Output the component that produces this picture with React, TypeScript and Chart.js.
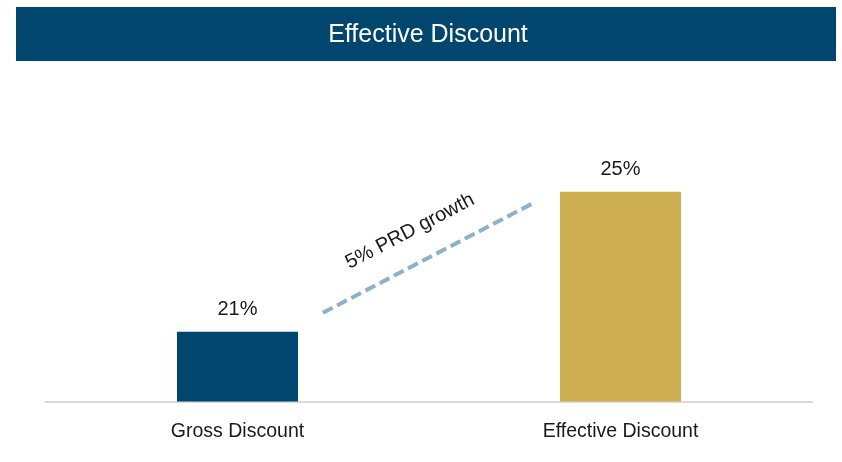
import React, { useEffect, useRef } from 'react';
import { Chart, registerables } from 'chart.js';

Chart.register(...registerables);

const titleText = 'Effective Discount';
const categories = ['Gross Discount', 'Effective Discount'];
const values = [21, 25];
const valueLabels = ['21%', '25%'];
const barColors = ['#00466E', '#CDAE51'];
const yRange = [19, 28];
const growthLabel = '5% PRD growth';
const growthLineX = [0.223, 0.769];
const growthLineY = [21.54, 24.66];

const FONT = '"Liberation Sans", Arial, sans-serif';

export default function App() {
  const ref = useRef<HTMLCanvasElement | null>(null);

  useEffect(() => {
    const canvas = ref.current;
    if (!canvas) return;

    const decor = {
      id: 'decor',
      beforeDraw(chart: any) {
        const ctx = chart.ctx;
        ctx.save();
        ctx.fillStyle = '#00466E';
        ctx.fillRect(16, 7, 820, 54);
        ctx.fillStyle = '#ffffff';
        ctx.font = `25px ${FONT}`;
        ctx.textAlign = 'center';
        ctx.textBaseline = 'middle';
        ctx.fillText(titleText, 428, 35);
        ctx.restore();
      },
      afterDatasetsDraw(chart: any) {
        const ctx = chart.ctx;
        const meta = chart.getDatasetMeta(0);
        ctx.save();
        ctx.fillStyle = '#1a1a1a';
        ctx.font = `20px ${FONT}`;
        ctx.textAlign = 'center';
        ctx.textBaseline = 'middle';
        meta.data.forEach((bar: any, i: number) => {
          ctx.fillText(valueLabels[i], bar.x, bar.y - 22);
        });
        const xs = chart.scales.x;
        const ys = chart.scales.y;
        const x1 = xs.getPixelForValue(growthLineX[0]);
        const x2 = xs.getPixelForValue(growthLineX[1]);
        const y1 = ys.getPixelForValue(growthLineY[0]);
        const y2 = ys.getPixelForValue(growthLineY[1]);
        ctx.strokeStyle = '#8DB1CD';
        ctx.lineWidth = 4;
        ctx.setLineDash([11, 5]);
        ctx.beginPath();
        ctx.moveTo(x1, y1);
        ctx.lineTo(x2, y2);
        ctx.stroke();
        ctx.setLineDash([]);
        const ang = Math.atan2(y2 - y1, x2 - x1);
        ctx.translate((x1 + x2) / 2, (y1 + y2) / 2);
        ctx.rotate(ang);
        ctx.font = `20px ${FONT}`;
        ctx.fillStyle = '#1a1a1a';
        ctx.fillText(growthLabel, -3, -32);
        ctx.restore();
      },
    };

    const chart = new Chart(canvas, {
      type: 'bar',
      data: {
        labels: categories,
        datasets: [
          {
            data: values,
            backgroundColor: barColors,
            barPercentage: 1,
            categoryPercentage: 0.316,
          },
        ],
      },
      options: {
        responsive: false,
        maintainAspectRatio: false,
        animation: false,
        layout: { padding: { left: 46, right: 30, top: 87, bottom: 1 } },
        plugins: {
          legend: { display: false },
          tooltip: { enabled: false },
          title: { display: false },
        },
        scales: {
          x: {
            grid: { display: false, drawTicks: false },
            border: { display: true, color: '#D9D9D9', width: 2 },
            ticks: {
              padding: 18,
              color: '#1a1a1a',
              font: { family: FONT, size: 19.5 },
            },
          },
          y: {
            display: false,
            min: yRange[0],
            max: yRange[1],
          },
        },
      },
      plugins: [decor],
    });

    return () => chart.destroy();
  }, []);

  return (
    <div style={{ position: 'fixed', left: 0, top: 0, width: 842, height: 462, background: '#fff' }}>
      <canvas ref={ref} width={842} height={462} />
    </div>
  );
}
